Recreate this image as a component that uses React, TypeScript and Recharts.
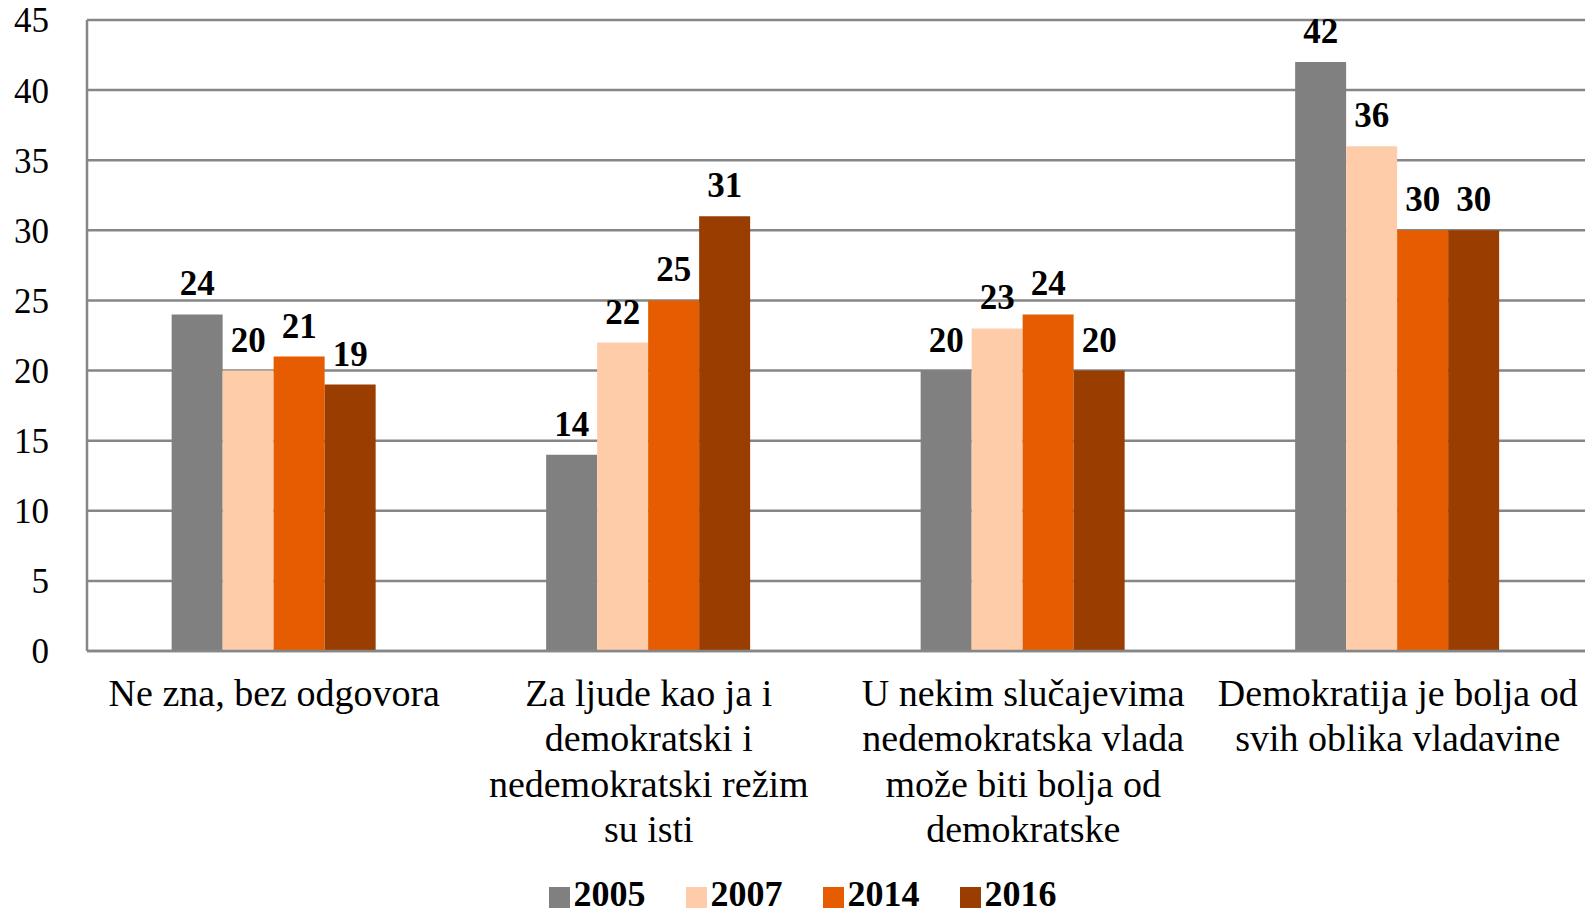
import React from 'react';
import { BarChart, Bar, XAxis, YAxis, CartesianGrid, Legend, LabelList } from 'recharts';

const categories = [
  'Ne zna, bez odgovora',
  'Za ljude kao ja i\ndemokratski i\nnedemokratski režim\nsu isti',
  'U nekim slučajevima\nnedemokratska vlada\nmože biti bolja od\ndemokratske',
  'Demokratija je bolja od\nsvih oblika vladavine',
];

const years = ['2005', '2007', '2014', '2016'];
const values2005 = [24, 14, 20, 42];
const values2007 = [20, 22, 23, 36];
const values2014 = [21, 25, 24, 30];
const values2016 = [19, 31, 20, 30];
const yTicks = [0, 5, 10, 15, 20, 25, 30, 35, 40, 45];

const colors = ['#808080', '#FFCCAA', '#E65C00', '#993D00'];
const FONT = '"Liberation Serif", "DejaVu Serif", serif';

const data = categories.map((name, i) => ({
  name,
  '2005': values2005[i],
  '2007': values2007[i],
  '2014': values2014[i],
  '2016': values2016[i],
}));

const CategoryTick = (props: any) => {
  const { x, y, payload } = props;
  const lines = String(payload.value).split('\n');
  return (
    <g transform={`translate(${x},${y})`}>
      {lines.map((line, i) => (
        <text
          key={i}
          x={0}
          y={47 + i * 45.3}
          textAnchor="middle"
          fontSize={38}
          fontFamily={FONT}
          fill="#000"
        >
          {line}
        </text>
      ))}
    </g>
  );
};

export default function App() {
  return (
    <div style={{ position: 'absolute', left: 0, top: 0, width: 1589, height: 915, background: '#fff' }}>
      <BarChart
        width={1589}
        height={915}
        data={data}
        margin={{ top: 20, right: 4, left: 0, bottom: 0 }}
        barCategoryGap="22.6%"
        barGap={0}
      >
        <CartesianGrid vertical={false} stroke="#868686" strokeWidth={2.5} />
        <XAxis
          dataKey="name"
          tick={<CategoryTick />}
          tickLine={false}
          axisLine={{ stroke: '#868686', strokeWidth: 2.5 }}
          height={222}
          interval={0}
        />
        <YAxis
          domain={[0, 45]}
          ticks={yTicks}
          width={87}
          tickLine={false}
          axisLine={{ stroke: '#868686', strokeWidth: 2.5 }}
          tick={{ fontSize: 35, fontFamily: FONT, fill: '#000' }}
          tickMargin={32}
        />
        <Legend
          verticalAlign="bottom"
          iconType="square"
          iconSize={21}
          wrapperStyle={{ fontFamily: FONT, fontSize: 36, fontWeight: 'bold', paddingLeft: 30 }}
          formatter={(value: string) => <span style={{ color: '#000', marginRight: 30 }}>{value}</span>}
        />
        {years.map((yr, i) => (
          <Bar key={yr} dataKey={yr} fill={colors[i]} isAnimationActive={false}>
            <LabelList
              dataKey={yr}
              position="top"
              offset={19}
              style={{ fontFamily: FONT, fontSize: 35, fontWeight: 'bold', fill: '#000' }}
            />
          </Bar>
        ))}
      </BarChart>
    </div>
  );
}
